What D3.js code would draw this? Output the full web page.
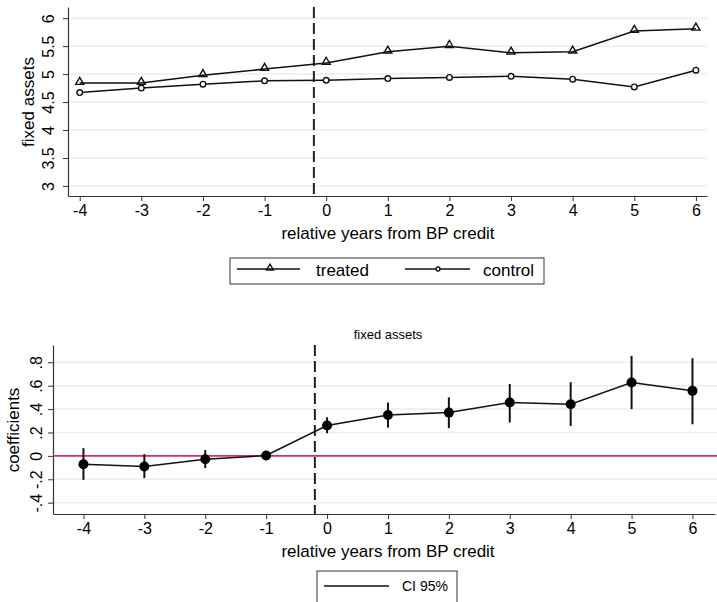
<!DOCTYPE html>
<html lang="en">
<head>
    <meta charset="UTF-8">
    <title>Fixed assets event study</title>
    <script src="https://d3js.org/d3.v7.min.js"></script>
    <style>
        body { margin: 0; background: #fff; }
        text { font-family: "Liberation Sans", Arial, sans-serif; fill: #000; }
    </style>
</head>
<body>
    <div id="chart"></div>
    <script>
        // data
        var years = [-4, -3, -2, -1, 0, 1, 2, 3, 4, 5, 6];
        var treated = [4.84, 4.84, 4.98, 5.09, 5.20, 5.40, 5.50, 5.38, 5.40, 5.77, 5.81];
        var control = [4.67, 4.75, 4.82, 4.88, 4.89, 4.92, 4.94, 4.96, 4.91, 4.77, 5.07];
        var coef = [-0.071, -0.091, -0.029, 0.003, 0.259, 0.35, 0.37, 0.456, 0.442, 0.627, 0.556];
        var ciLow = [-0.205, -0.19, -0.105, -0.007, 0.194, 0.242, 0.237, 0.285, 0.256, 0.40, 0.27];
        var ciHigh = [0.066, 0.015, 0.05, 0.013, 0.33, 0.456, 0.50, 0.615, 0.63, 0.855, 0.835];
        var topTicks = [3, 3.5, 4, 4.5, 5, 5.5, 6];
        var topTickLabels = ["3", "3.5", "4", "4.5", "5", "5.5", "6"];
        var botTicks = [-0.4, -0.2, 0, 0.2, 0.4, 0.6, 0.8];
        var botTickLabels = ["-.4", "-.2", "0", ".2", ".4", ".6", ".8"];
        var treatYear = -0.2;

        var width = 717, height = 602;
        var gridColor = "#e6eff1";

        var svg = d3.select("#chart").append("svg")
            .attr("width", width)
            .attr("height", height);

        function yearLabel(d) { return String(d); }

        // ---------- top panel ----------
        var x1 = d3.scaleLinear().domain([-4.19, 6.18]).range([68, 707]);
        var y1 = d3.scaleLinear().domain([2.82, 6.2]).range([196, 7]);

        var g1 = svg.append("g");

        g1.selectAll(".grid").data(topTicks).enter().append("line")
            .attr("x1", 68).attr("x2", 707)
            .attr("y1", function(d) { return y1(d); })
            .attr("y2", function(d) { return y1(d); })
            .attr("stroke", gridColor).attr("stroke-width", 1.5);

        var yAxis1 = g1.append("g").attr("transform", "translate(68,0)")
            .call(d3.axisLeft(y1).tickValues(topTicks)
                .tickFormat(function(d, i) { return topTickLabels[i]; })
                .tickSize(5).tickSizeOuter(0));
        yAxis1.selectAll("text")
            .attr("transform", "translate(-20,0) rotate(-90)")
            .attr("x", 0).attr("y", 0).attr("dy", "0.35em")
            .style("text-anchor", "middle").style("font-size", "16px");

        var xAxis1 = g1.append("g").attr("transform", "translate(0,196)")
            .call(d3.axisBottom(x1).tickValues(years).tickFormat(yearLabel)
                .tickSize(5).tickSizeOuter(0));
        xAxis1.selectAll("text").attr("y", 9).style("font-size", "16px");

        [yAxis1, xAxis1].forEach(function(a) {
            a.select(".domain").attr("stroke", "#333").attr("stroke-width", 1.2);
            a.selectAll(".tick line").attr("stroke", "#333");
        });

        g1.append("line")
            .attr("x1", x1(treatYear)).attr("x2", x1(treatYear))
            .attr("y1", 7).attr("y2", 196)
            .attr("stroke", "#222").attr("stroke-width", 2)
            .attr("stroke-dasharray", "11,5");

        var line1 = d3.line()
            .x(function(d, i) { return x1(years[i]); })
            .y(function(d) { return y1(d); });

        g1.append("path").datum(treated)
            .attr("d", line1).attr("fill", "none")
            .attr("stroke", "#111").attr("stroke-width", 1.5);
        g1.append("path").datum(control)
            .attr("d", line1).attr("fill", "none")
            .attr("stroke", "#111").attr("stroke-width", 1.5);

        var tri = d3.symbol().type(d3.symbolTriangle).size(28);
        g1.selectAll(".tri").data(treated).enter().append("path")
            .attr("d", tri)
            .attr("transform", function(d, i) { return "translate(" + x1(years[i]) + "," + (y1(d) - 1) + ")"; })
            .attr("fill", "none").attr("stroke", "#111").attr("stroke-width", 1.4);
        g1.selectAll(".circ").data(control).enter().append("circle")
            .attr("cx", function(d, i) { return x1(years[i]); })
            .attr("cy", function(d) { return y1(d); })
            .attr("r", 2.8)
            .attr("fill", "#fff").attr("stroke", "#111").attr("stroke-width", 1.4);

        g1.append("text")
            .attr("transform", "translate(28,102) rotate(-90)")
            .attr("dy", "0.35em")
            .style("text-anchor", "middle").style("font-size", "17px")
            .text("fixed assets");
        g1.append("text")
            .attr("x", 388).attr("y", 239)
            .style("text-anchor", "middle").style("font-size", "17px")
            .text("relative years from BP credit");

        // top legend
        var leg1 = svg.append("g");
        leg1.append("rect").attr("x", 230).attr("y", 258).attr("width", 314).attr("height", 26)
            .attr("fill", "#fff").attr("stroke", "#333").attr("stroke-width", 1);
        leg1.append("line").attr("x1", 237).attr("x2", 300).attr("y1", 269).attr("y2", 269)
            .attr("stroke", "#111").attr("stroke-width", 1.5);
        leg1.append("path").attr("d", d3.symbol().type(d3.symbolTriangle).size(20))
            .attr("transform", "translate(270,268)")
            .attr("fill", "none").attr("stroke", "#111").attr("stroke-width", 1.4);
        leg1.append("text").attr("x", 316).attr("y", 276).style("font-size", "17px").text("treated");
        leg1.append("line").attr("x1", 405).attr("x2", 470).attr("y1", 269).attr("y2", 269)
            .attr("stroke", "#111").attr("stroke-width", 1.5);
        leg1.append("circle").attr("cx", 438).attr("cy", 269).attr("r", 2)
            .attr("fill", "#fff").attr("stroke", "#111").attr("stroke-width", 1.3);
        leg1.append("text").attr("x", 483).attr("y", 276).style("font-size", "17px").text("control");

        // ---------- bottom panel ----------
        var x2 = d3.scaleLinear().domain([-4.5, 6.37]).range([53, 715]);
        var y2 = d3.scaleLinear().domain([-0.497, 0.948]).range([514, 345]);

        var g2 = svg.append("g");

        g2.selectAll(".grid").data(botTicks).enter().append("line")
            .attr("x1", 53).attr("x2", 717)
            .attr("y1", function(d) { return y2(d); })
            .attr("y2", function(d) { return y2(d); })
            .attr("stroke", gridColor).attr("stroke-width", 1.5);

        var yAxis2 = g2.append("g").attr("transform", "translate(53,0)")
            .call(d3.axisLeft(y2).tickValues(botTicks)
                .tickFormat(function(d, i) { return botTickLabels[i]; })
                .tickSize(5).tickSizeOuter(0));
        yAxis2.selectAll("text")
            .attr("transform", "translate(-17,0) rotate(-90)")
            .attr("x", 0).attr("y", 0).attr("dy", "0.35em")
            .style("text-anchor", "middle").style("font-size", "16px");

        var xAxis2 = g2.append("g").attr("transform", "translate(0,514)")
            .call(d3.axisBottom(x2).tickValues(years).tickFormat(yearLabel)
                .tickSize(5).tickSizeOuter(0));
        xAxis2.selectAll("text").attr("y", 9).style("font-size", "16px");

        [yAxis2, xAxis2].forEach(function(a) {
            a.select(".domain").attr("stroke", "#333").attr("stroke-width", 1.2);
            a.selectAll(".tick line").attr("stroke", "#333");
        });

        g2.append("line")
            .attr("x1", 53).attr("x2", 717)
            .attr("y1", y2(0)).attr("y2", y2(0))
            .attr("stroke", "#d6325a").attr("stroke-width", 1.8);

        g2.append("line")
            .attr("x1", x2(treatYear)).attr("x2", x2(treatYear))
            .attr("y1", 345).attr("y2", 514)
            .attr("stroke", "#222").attr("stroke-width", 2)
            .attr("stroke-dasharray", "11,5");

        g2.selectAll(".ci").data(coef).enter().append("line")
            .attr("x1", function(d, i) { return x2(years[i]); })
            .attr("x2", function(d, i) { return x2(years[i]); })
            .attr("y1", function(d, i) { return y2(ciLow[i]); })
            .attr("y2", function(d, i) { return y2(ciHigh[i]); })
            .attr("stroke", "#111").attr("stroke-width", 2);

        var line2 = d3.line()
            .x(function(d, i) { return x2(years[i]); })
            .y(function(d) { return y2(d); });
        g2.append("path").datum(coef)
            .attr("d", line2).attr("fill", "none")
            .attr("stroke", "#111").attr("stroke-width", 1.5);

        g2.selectAll(".dot").data(coef).enter().append("circle")
            .attr("cx", function(d, i) { return x2(years[i]); })
            .attr("cy", function(d) { return y2(d); })
            .attr("r", 5).attr("fill", "#000");

        g2.append("text")
            .attr("x", 388).attr("y", 339)
            .style("text-anchor", "middle").style("font-size", "13px")
            .text("fixed assets");
        g2.append("text")
            .attr("transform", "translate(13,430) rotate(-90)")
            .attr("dy", "0.35em")
            .style("text-anchor", "middle").style("font-size", "17px")
            .text("coefficients");
        g2.append("text")
            .attr("x", 388).attr("y", 557)
            .style("text-anchor", "middle").style("font-size", "17px")
            .text("relative years from BP credit");

        // bottom legend
        var leg2 = svg.append("g");
        leg2.append("rect").attr("x", 317).attr("y", 571).attr("width", 140).attr("height", 40)
            .attr("fill", "#fff").attr("stroke", "#333").attr("stroke-width", 1);
        leg2.append("line").attr("x1", 324).attr("x2", 389).attr("y1", 586).attr("y2", 586)
            .attr("stroke", "#111").attr("stroke-width", 1.5);
        leg2.append("text").attr("x", 402).attr("y", 591).style("font-size", "14px").text("CI 95%");
    </script>
</body>
</html>
